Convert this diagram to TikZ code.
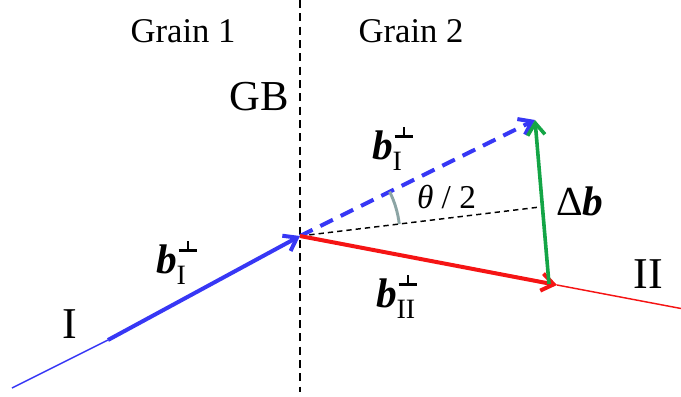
\documentclass[tikz,border=0pt]{standalone}
\usepackage{fontspec}
\setmainfont{Liberation Serif}
\usetikzlibrary{arrows.meta}
\definecolor{vblue}{RGB}{55,55,245}
\definecolor{vred}{RGB}{245,20,20}
\definecolor{vgreen}{RGB}{20,165,70}
\definecolor{vgray}{RGB}{140,165,165}
\newcommand{\perpmark}{\hbox to 14pt{\hss\rule{2.1pt}{8pt}\hss}\llap{\rule{14pt}{2.1pt}}}
\newcommand{\bvec}[1]{{\bfseries\itshape b}\rlap{\kern1.5pt\raisebox{16pt}{\perpmark}}\raisebox{-8.5pt}{\fontsize{21}{21}\selectfont #1}}
\tikzset{
  lbl/.style={inner sep=0pt, outer sep=0pt, anchor=base},
  tip/.style={-{Straight Barb[length=9pt,width=13pt]}},
}
\begin{document}
\begin{tikzpicture}[x=0.75pt,y=-0.75pt]
\useasboundingbox (0,0) rectangle (681,396);
% coordinates
\coordinate (O) at (300,236);
\coordinate (gbT) at (300,0);
\coordinate (gbB) at (300,392);
\coordinate (iS) at (12,388);
\coordinate (iT) at (108,340);
\coordinate (bD) at (535,120);
\coordinate (bis) at (540,207);
\coordinate (rE) at (557,285);
\coordinate (rF) at (681,308.5);
\coordinate (gS) at (549,284);
% grain boundary
\draw[line width=1.1pt, dash pattern=on 6pt off 4pt] (gbT) -- (gbB);
% incoming b_I
\draw[vblue, line width=1.1pt] (iS) -- (iT);
\draw[vblue, line width=3pt, tip] (iT) -- (O);
% bisector
\draw[black, line width=1.1pt, dash pattern=on 4pt off 3pt] (O) -- (bis);
% dashed continuation of b_I
\draw[vblue, line width=3pt, dash pattern=on 10.5pt off 6.5pt, tip] (O) -- (bD);
% b_II
\draw[vred, line width=3pt, tip] (O) -- (rE);
\draw[vred, line width=1.1pt] (rE) -- (rF);
% Delta b
\draw[vgreen, line width=2.7pt, tip] (gS) -- (bD);
% angle arc
\draw[vgray, line width=2.2pt] (O) ++(-6.9:100) arc[start angle=-6.9, end angle=-26.3, radius=100];
% labels
\node[lbl] (g1) at (183,42) {\fontsize{26}{26}\selectfont Grain 1};
\node[lbl] (g2) at (411,42) {\fontsize{26}{26}\selectfont Grain 2};
\node[lbl] (gb) at (259,110) {\fontsize{32}{32}\selectfont GB};
\node[lbl, anchor=base west] (bI1) at (156,273) {\fontsize{31}{31}\selectfont\bvec{I}};
\node[lbl, anchor=base west] (bI2) at (372,159) {\fontsize{31}{31}\selectfont\bvec{I}};
\node[lbl, anchor=base west] (bII) at (376,307) {\fontsize{31}{31}\selectfont\bvec{II}};
\node[lbl, anchor=base west] (th) at (417,208) {\fontsize{25}{25}\selectfont\itshape θ\upshape{} / 2};
\node[lbl, anchor=base west] (db) at (556,215) {\fontsize{31}{31}\selectfont Δ{\bfseries\itshape b}};
\node[lbl] (lI) at (70,338) {\fontsize{33}{33}\selectfont I};
\node[lbl] (lII) at (648,288) {\fontsize{33}{33}\selectfont II};
\end{tikzpicture}
\end{document}
